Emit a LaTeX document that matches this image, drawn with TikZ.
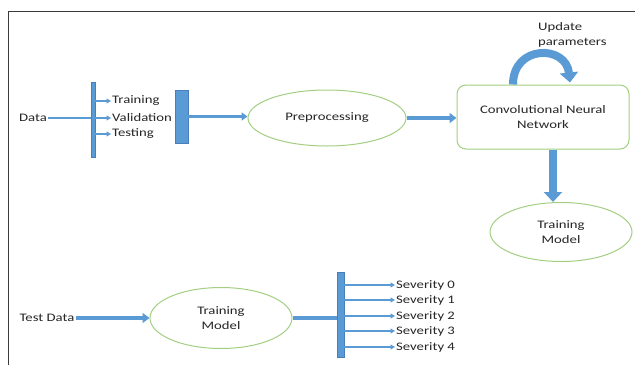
\documentclass[tikz,border=0pt]{standalone}
\usepackage{fontspec}
\setmainfont{Carlito}[FakeStretch=1.28]
\usetikzlibrary{arrows.meta,positioning,shapes.geometric}
\definecolor{fg}{HTML}{262626}
\definecolor{flow}{HTML}{5B9BD5}
\definecolor{flowdark}{HTML}{4A7EBB}
\definecolor{ring}{HTML}{A3CF82}
\definecolor{frame}{HTML}{3A3A3A}

\begin{document}
\begin{tikzpicture}[
  x=1pt, y=-1pt, font=\fontsize{11.5}{15.5}\selectfont, >=Latex,
  lbl/.style={text=fg, align=center, inner sep=1pt},
  item/.style={text=fg, anchor=west, inner sep=1pt},
  oval/.style={ellipse, draw=ring, line width=1pt, fill=white, text=fg, align=center, inner sep=0pt},
  net/.style={draw=ring, line width=1pt, rounded corners=9pt, fill=white, text=fg, align=center},
  bar/.style={fill=flow, draw=flowdark, line width=0.4pt, inner sep=0pt},
  tap/.style={draw=flow, line width=1.6pt, -{Triangle[length=4.5pt,width=5pt]}},
  pipe/.style={draw=flow, line width=2.6pt, -{Triangle[length=6pt,width=8pt]}},
  fat/.style={draw=flow, line width=3.6pt, -{Triangle[length=7pt,width=10pt]}},
  drop/.style={draw=flow, line width=8pt, -{Triangle[length=10pt,width=18pt]}},
]
\useasboundingbox (0,0) rectangle (635,365);
% frame of the slide
\draw[frame, line width=0.8pt] (8,365) -- (8,11) -- (635,11);

% --- training branch: data split ---
\node[lbl] (data) at (33,118) {Data};
\node[bar, minimum width=4pt, minimum height=75pt] (split) at (93,119.5) {};
\node[item] (train) at (111,101) {Training};
\node[item] (valid) at (111,118) {Validation};
\node[item] (test) at (111,134) {Testing};
\node[bar, minimum width=13pt, minimum height=53pt] (merge) at (181.5,116.5) {};

% --- pipeline: preprocessing -> network -> model ---
\node[oval, minimum width=158pt, minimum height=56pt] (prep) at (327,118) {Preprocessing};
\node[net, minimum width=172pt, minimum height=64pt] (cnn) at (543,117)
  {Convolutional Neural\\Network};
\node[lbl, align=left, anchor=north west] (upd) at (537,21) {Update\\parameters};
\node[oval, minimum width=142pt, minimum height=59pt] (model) at (561,232) {Training\\Model};

\draw[draw=flow, line width=2pt] (data.east) -- (split.west |- data.east);
\draw[tap] (split.east |- train.west) -- (train.west);
\draw[tap] (split.east |- valid.west) -- (valid.west);
\draw[tap] (split.east |- test.west) -- (test.west);
\draw[pipe] (merge.east) -- (merge.east -| prep.west);
\draw[fat] (prep.east) -- (prep.east -| cnn.west);
\draw[drop] ([xshift=10pt]cnn.south) -- ([xshift=10pt]cnn.south |- model.north);
\draw[drop] ([xshift=-30pt]cnn.north) .. controls +(0,-40) and +(-4,-38) ..
  ([xshift=27pt,yshift=2pt]cnn.north);

% --- testing branch: model -> severity classes ---
\node[lbl] (tdata) at (47,318) {Test Data};
\node[oval, minimum width=142pt, minimum height=61pt] (tmodel) at (221,318) {Training\\Model};
\node[bar, minimum width=7pt, minimum height=85pt] (fan) at (340.5,314.5) {};
\node[item] (s0) at (395,285) {Severity 0};
\node[item] (s1) at (395,300) {Severity 1};
\node[item] (s2) at (395,316) {Severity 2};
\node[item] (s3) at (395,331) {Severity 3};
\node[item] (s4) at (395,347) {Severity 4};

\draw[fat] (tdata.east) -- (tmodel.west);
\draw[draw=flow, line width=3.6pt] (tmodel.east) -- (tmodel.east -| fan.west);
\draw[tap] (fan.east |- s0.west) -- (s0.west);
\draw[tap] (fan.east |- s1.west) -- (s1.west);
\draw[tap] (fan.east |- s2.west) -- (s2.west);
\draw[tap] (fan.east |- s3.west) -- (s3.west);
\draw[tap] (fan.east |- s4.west) -- (s4.west);
\end{tikzpicture}
\end{document}
